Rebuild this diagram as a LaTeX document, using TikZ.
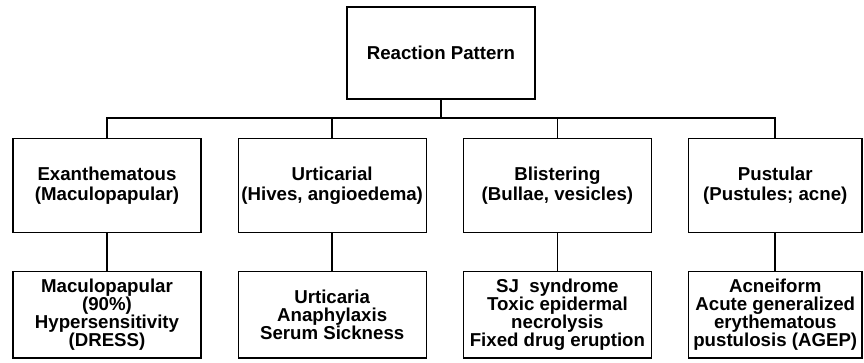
\documentclass[tikz,border=0pt]{standalone}
\usepackage{fontspec}
\setmainfont{Liberation Sans}
\usetikzlibrary{positioning}

\begin{document}
\begin{tikzpicture}[
  x=0.75pt, y=-0.75pt,
  box/.style={draw, line width=0.9pt, align=center, inner xsep=1pt, inner ysep=2pt,
              font=\bfseries\fontsize{14}{15}\selectfont},
  rootbox/.style={box, minimum width=141pt, minimum height=69pt},
  catbox/.style={box, minimum width=141pt, minimum height=70pt},
  kindbox/.style={box, minimum width=141pt, minimum height=65pt,
                  font=\bfseries\fontsize{14}{13.5}\selectfont},
  link/.style={line width=1.2pt},
]
\useasboundingbox (0,0) rectangle (864,362);
\node[rootbox] (top) at (441,53) {Reaction Pattern};
\coordinate[below=14pt of top] (bus);
% categories
\node[catbox] (exan) at (107,185.5) {Exanthematous\\(Maculopapular)};
\node[catbox, right=27pt of exan] (urti) {Urticarial\\(Hives, angioedema)};
\node[catbox, right=27pt of urti] (blis) {Blistering\\(Bullae, vesicles)};
\node[catbox, right=27pt of blis, minimum width=130pt] (pust) {Pustular\\(Pustules; acne)};
% reactions
\node[kindbox, below=28.5pt of exan] (macu) {Maculopapular\\(90\%)\\Hypersensitivity\\(DRESS)};
\node[kindbox, below=28.5pt of urti] (hive) {Urticaria\\Anaphylaxis\\Serum Sickness};
\node[kindbox, below=28.5pt of blis] (sjs) {SJ\ \ syndrome\\Toxic epidermal\\necrolysis\\Fixed drug eruption};
\node[kindbox, below=28.5pt of pust, minimum width=130pt] (acne) {Acneiform\\Acute generalized\\erythematous\\pustulosis (AGEP)};
\draw[link] (top) -- (bus);
\foreach \c in {exan,urti,blis,pust}
  \draw[link] (bus) -| (\c.north);
\draw[link] (exan) -- (macu);
\draw[link] (urti) -- (hive);
\draw[link] (blis) -- (sjs);
\draw[link] (pust) -- (acne);
\end{tikzpicture}
\end{document}
